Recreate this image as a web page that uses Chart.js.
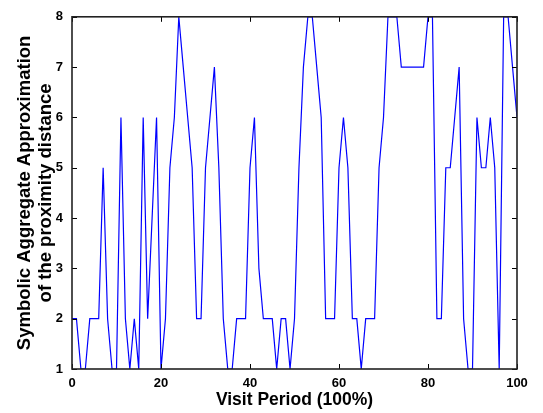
<!DOCTYPE html>
<html>
<head>
<meta charset="utf-8">
<script src="https://cdn.jsdelivr.net/npm/chart.js@4.4.1/dist/chart.umd.min.js"></script>
<style>
  html, body { margin: 0; padding: 0; background: #fff; }
  #wrap { width: 543px; height: 413px; }
</style>
</head>
<body>
<div id="wrap"><canvas id="saxChart" width="543" height="413"></canvas></div>
<script>
// --- DATOS ---
// periodo de visita (0..100 %) y simbolo SAX de la distancia de proximidad
const visitPeriod = Array.from({ length: 101 }, (_, i) => i);
const saxSymbols = [
    2, 2, 1, 1, 2, 2, 2, 5, 2, 1,
    1, 6, 2, 1, 2, 1, 6, 2, 4, 6,
    1, 2, 5, 6, 8, 7, 6, 5, 2, 2,
    5, 6, 7, 5, 2, 1, 1, 2, 2, 2,
    5, 6, 3, 2, 2, 2, 1, 2, 2, 1,
    2, 5, 7, 8, 8, 7, 6, 2, 2, 2,
    5, 6, 5, 2, 2, 1, 2, 2, 2, 5,
    6, 8, 8, 8, 7, 7, 7, 7, 7, 7,
    8, 8, 2, 2, 5, 5, 6, 7, 2, 1,
    1, 6, 5, 5, 6, 5, 1, 8, 8, 7,
    6
];
const xTicks = [0, 20, 40, 60, 80, 100];
const yTicks = [1, 2, 3, 4, 5, 6, 7, 8];

const lineColor = '#0000ff';
const axisColor = '#000000';
const fontFamily = '"Liberation Sans", Arial, Helvetica, sans-serif';

// marco del eje con marcas hacia dentro en los cuatro lados
const framePlugin = {
    id: 'frame',
    afterDatasetsDraw(chart) {
        const { ctx, chartArea: a, scales } = chart;
        const tick = 5;
        ctx.save();
        ctx.strokeStyle = axisColor;
        ctx.lineWidth = 1;
        ctx.beginPath();
        xTicks.forEach(v => {
            const px = Math.round(scales.x.getPixelForValue(v)) + 0.5;
            ctx.moveTo(px, a.bottom); ctx.lineTo(px, a.bottom - tick);
            ctx.moveTo(px, a.top); ctx.lineTo(px, a.top + tick);
        });
        yTicks.forEach(v => {
            const py = Math.round(scales.y.getPixelForValue(v)) + 0.5;
            ctx.moveTo(a.left, py); ctx.lineTo(a.left + tick, py);
            ctx.moveTo(a.right, py); ctx.lineTo(a.right - tick, py);
        });
        ctx.stroke();
        ctx.strokeStyle = '#222';
        ctx.lineWidth = 1.6;
        ctx.strokeRect(a.left, a.top, a.right - a.left, a.bottom - a.top);
        ctx.restore();
    }
};

new Chart(document.getElementById('saxChart'), {
    type: 'line',
    data: {
        datasets: [{
            data: visitPeriod.map((x, i) => ({ x, y: saxSymbols[i] })),
            borderColor: lineColor,
            borderWidth: 1.2,
            pointRadius: 0,
            tension: 0,
            fill: false
        }]
    },
    options: {
        responsive: false,
        animation: false,
        layout: { padding: { top: 15, right: 26, left: 0, bottom: 0 } },
        plugins: {
            legend: { display: false },
            tooltip: { enabled: false }
        },
        scales: {
            x: {
                type: 'linear',
                min: 0,
                max: 100,
                afterBuildTicks: s => { s.ticks = xTicks.map(v => ({ value: v })); },
                afterFit: s => { s.height = 44; },
                grid: { display: false, drawTicks: false },
                border: { display: false },
                ticks: {
                    color: axisColor,
                    padding: 7,
                    maxRotation: 0,
                    font: { family: fontFamily, size: 13, weight: 'bold' }
                },
                title: {
                    display: true,
                    text: 'Visit Period (100%)',
                    color: axisColor,
                    padding: { top: 0, bottom: 2 },
                    font: { family: fontFamily, size: 17.5, weight: 'bold' }
                }
            },
            y: {
                type: 'linear',
                min: 1,
                max: 8,
                afterBuildTicks: s => { s.ticks = yTicks.map(v => ({ value: v })); },
                afterFit: s => { s.width = 72; },
                grid: { display: false, drawTicks: false },
                border: { display: false },
                ticks: {
                    color: axisColor,
                    padding: 9,
                    font: { family: fontFamily, size: 13, weight: 'bold' }
                },
                title: {
                    display: true,
                    text: ['Symbolic Aggregate Approximation', 'of the proximity distance'],
                    color: axisColor,
                    padding: { top: 15, bottom: 0 },
                    font: { family: fontFamily, size: 18.5, weight: 'bold', lineHeight: 1.1 }
                }
            }
        }
    },
    plugins: [framePlugin]
});
</script>
</body>
</html>
